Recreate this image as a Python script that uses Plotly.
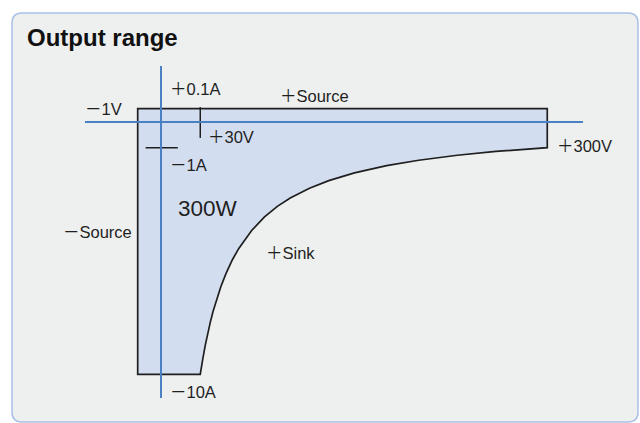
import plotly.graph_objects as go

# ---------------- data ----------------
volt_limits = [-1, 30, 300]          # V : -1V, +30V knee, +300V max
curr_limits = [0.1, -1, -10]         # A : +0.1A, -1A knee, -10A min
power_label = "300W"

# 300 W sink boundary (V, A)
curve_v = [30, 32, 34, 36, 38, 40, 43, 46, 50, 55, 60, 70, 80, 90, 100,
           115, 130, 150, 175, 200, 230, 260, 300]
curve_i = [-10, -9.38, -8.82, -8.33, -7.89, -7.5, -6.98, -6.52, -6, -5.45,
           -5, -4.29, -3.75, -3.33, -3, -2.61, -2.31, -2, -1.71, -1.5,
           -1.3, -1.15, -1]

tick_labels = ["－1V", "＋0.1A", "＋30V", "－1A", "＋300V", "－10A"]
region_labels = ["＋Source", "－Source", "＋Sink"]

V_NEG, V_KNEE, V_MAX = volt_limits
I_POS, I_KNEE, I_MIN = curr_limits

# ---------------- layout geometry (pixels) ----------------
W, H = 640, 423
X0, XL, XR = 161.7, 85.0, 583.3      # origin x, left / right end of V line
Y0, YT, YB = 122.5, 66.0, 397.7      # origin y, top / bottom end of I line
SX_NEG, SX_POS = 24.0, 1.2852        # px per volt
SY_POS, SY_NEG = 138.0, 25.18        # px per amp


def fx(p):
    return p / W


def fy(p):
    return 1 - p / H


FONT = "Liberation Sans, Arial, Noto Sans CJK JP, sans-serif"
BLACK = "#1f1f1f"
BLUE = "#4a80c4"
FILL = "#d3ddf0"
PANEL = "#eef0ef"
BORDER = "#a9c0e6"

fig = go.Figure()


def add_region(xa, ya, fx_, fy_, ox, oy):
    fig.add_trace(go.Scatter(x=fx_, y=fy_, xaxis=xa, yaxis=ya, mode="lines",
                             fill="toself", fillcolor=FILL,
                             line=dict(width=0, color=FILL),
                             hoverinfo="skip", showlegend=False))
    fig.add_trace(go.Scatter(x=ox, y=oy, xaxis=xa, yaxis=ya, mode="lines",
                             line=dict(width=1.7, color=BLACK),
                             hoverinfo="skip", showlegend=False))


rev_v = curve_v[::-1]
rev_i = curve_i[::-1]

# -V, +I quadrant
add_region("x", "y",
           [V_NEG, V_NEG, 0, 0], [0, I_POS, I_POS, 0],
           [V_NEG, V_NEG, 0], [0, I_POS, I_POS])
# +V, +I quadrant
add_region("x2", "y",
           [0, 0, V_MAX, V_MAX], [0, I_POS, I_POS, 0],
           [0, V_MAX, V_MAX], [I_POS, I_POS, 0])
# +V, -I quadrant (300 W boundary)
add_region("x2", "y2",
           [0, V_MAX] + rev_v + [0], [0, 0] + rev_i + [I_MIN],
           [V_MAX] + rev_v + [0], [0] + rev_i + [I_MIN])
# -V, -I quadrant
add_region("x", "y2",
           [0, V_NEG, V_NEG, 0], [I_MIN, I_MIN, 0, 0],
           [0, V_NEG, V_NEG], [I_MIN, I_MIN, 0])

# tick marks at +30V and -1A
fig.add_trace(go.Scatter(x=[V_KNEE], y=[0], xaxis="x2", yaxis="y2", mode="markers",
                         marker=dict(symbol="line-ns", size=22,
                                     line=dict(width=1.5, color=BLACK)),
                         cliponaxis=False, hoverinfo="skip", showlegend=False))
fig.add_trace(go.Scatter(x=[0], y=[I_KNEE], xaxis="x2", yaxis="y2", mode="markers",
                         marker=dict(symbol="line-ew", size=23,
                                     line=dict(width=1.5, color=BLACK)),
                         cliponaxis=False, hoverinfo="skip", showlegend=False))

ax_common = dict(showgrid=False, zeroline=False, showticklabels=False, ticks="",
                 showline=True, linecolor=BLUE, linewidth=1.5, fixedrange=True)

fig.update_layout(
    width=W, height=H,
    margin=dict(l=0, r=0, t=0, b=0),
    paper_bgcolor="white", plot_bgcolor="rgba(0,0,0,0)",
    showlegend=False, hovermode=False,
    font=dict(family=FONT, size=16.5, color=BLACK),
    xaxis=dict(domain=[fx(XL), fx(X0)], range=[-(X0 - XL) / SX_NEG, 0],
               anchor="y2", side="top", **ax_common),
    xaxis2=dict(domain=[fx(X0), fx(XR)], range=[0, (XR - X0) / SX_POS],
                anchor="y2", side="top", **ax_common),
    yaxis=dict(domain=[fy(Y0), fy(YT)], range=[0, (Y0 - YT) / SY_POS],
               anchor="x2", side="left", **ax_common),
    yaxis2=dict(domain=[fy(YB), fy(Y0)], range=[-(YB - Y0) / SY_NEG, 0],
                anchor="x2", side="left", **ax_common),
)

# rounded panel
r = 10
x0p, x1p, y0p, y1p = 12, 638, 13, 422
path = (f"M {fx(x0p + r)} {fy(y0p)} L {fx(x1p - r)} {fy(y0p)} "
        f"Q {fx(x1p)} {fy(y0p)} {fx(x1p)} {fy(y0p + r)} "
        f"L {fx(x1p)} {fy(y1p - r)} Q {fx(x1p)} {fy(y1p)} {fx(x1p - r)} {fy(y1p)} "
        f"L {fx(x0p + r)} {fy(y1p)} Q {fx(x0p)} {fy(y1p)} {fx(x0p)} {fy(y1p - r)} "
        f"L {fx(x0p)} {fy(y0p + r)} Q {fx(x0p)} {fy(y0p)} {fx(x0p + r)} {fy(y0p)} Z")
fig.add_shape(type="path", path=path, xref="paper", yref="paper",
              fillcolor=PANEL, line=dict(color=BORDER, width=1.5), layer="below")

ann = []
# title
ann.append(dict(text="<b>Output range</b>", xref="paper", yref="paper",
                x=fx(26), y=fy(37), xanchor="left", yanchor="middle",
                font=dict(size=24, color="#111"), showarrow=False, borderpad=0))

# value labels anchored to data points
tick_specs = [
    (tick_labels[0], "x", "y", V_NEG, I_POS, "right", -15, 0),
    (tick_labels[1], "x2", "y", 0, I_POS, "left", 7, 19.5),
    (tick_labels[2], "x2", "y2", V_KNEE, 0, "left", 6.5, -14.5),
    (tick_labels[3], "x2", "y2", 0, I_KNEE, "left", 7, -17),
    (tick_labels[4], "x2", "y2", V_MAX, I_KNEE, "left", 8.5, 1.5),
    (tick_labels[5], "x2", "y2", 0, I_MIN, "left", 7, -17.5),
]
for t, xr, yr, xv, yv, xa, xs, ys in tick_specs:
    ann.append(dict(text=t, xref=xr, yref=yr, x=xv, y=yv, xanchor=xa,
                    yanchor="middle", xshift=xs, yshift=ys, showarrow=False,
                    borderpad=0, font=dict(size=16.5)))

region_pos = [(279, 96, "left"), (133, 232, "right"), (265, 253, "left")]
for t, (px_, py_, xa) in zip(region_labels, region_pos):
    ann.append(dict(text=t, xref="paper", yref="paper", x=fx(px_), y=fy(py_),
                    xanchor=xa, yanchor="middle", showarrow=False, borderpad=0,
                    font=dict(size=16.5)))

ann.append(dict(text=power_label, xref="paper", yref="paper", x=fx(177),
                y=fy(208.5), xanchor="left", yanchor="middle", showarrow=False,
                borderpad=0, font=dict(size=22.5)))

fig.update_layout(annotations=ann)

fig.write_html("out.html", config={"displayModeBar": False},
               post_script="document.body.style.margin='0';"
                           "document.body.style.overflow='hidden';")
